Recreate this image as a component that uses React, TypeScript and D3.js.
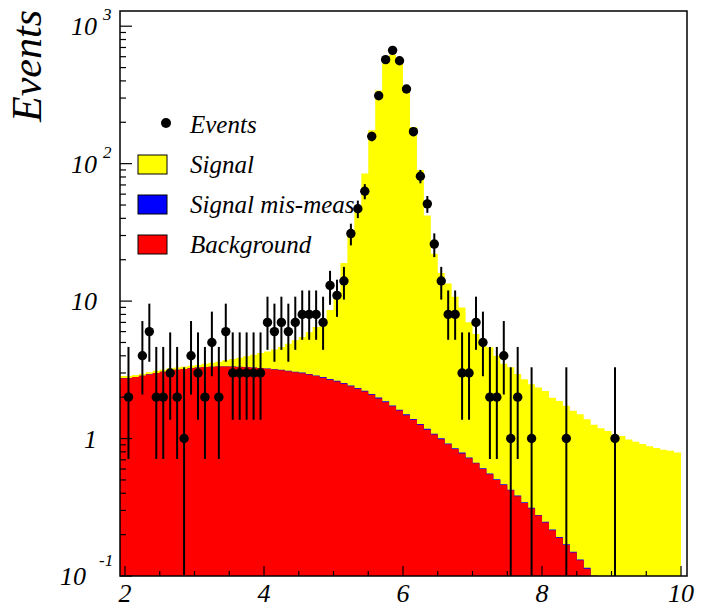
import * as d3 from "d3";

const W = 702;
const H = 608;
const frame = { left: 120, right: 687, top: 11, bottom: 576 };

// histogram binning: 80 bins of 0.1 from 2 to 10
const binLow = 2;
const binWidth = 0.1;

// observed events per bin
const events = [
  2, 0, 4, 6, 2, 2, 3, 2, 1, 4,
  3, 2, 5, 2, 6, 3, 3, 3, 3, 3,
  7, 6, 7, 6, 7, 8, 8, 8, 7, 13,
  11, 14, 31, 47, 63, 158, 312, 571, 667, 561,
  349, 171, 81, 51, 26, 14, 8, 8, 3, 3,
  7, 5, 2, 2, 4, 1, 2, 0, 1, 0,
  0, 0, 0, 1, 0, 0, 0, 0, 0, 0,
  1, 0, 0, 0, 0, 0, 0, 0, 0, 0,
];

// background (red)
const background = [
  2.75, 2.8, 2.86, 2.93, 3.0, 3.06, 3.12, 3.17, 3.21, 3.25,
  3.28, 3.31, 3.33, 3.34, 3.34, 3.33, 3.32, 3.3, 3.28, 3.25,
  3.22, 3.18, 3.14, 3.09, 3.04, 2.99, 2.92, 2.85, 2.77, 2.68,
  2.6, 2.5, 2.4, 2.3, 2.2, 2.08, 1.96, 1.84, 1.72, 1.6,
  1.48, 1.37, 1.26, 1.16, 1.07, 0.99, 0.91, 0.84, 0.78, 0.72,
  0.66, 0.6, 0.55, 0.5, 0.46, 0.42, 0.38, 0.34, 0.31, 0.275,
  0.245, 0.215, 0.19, 0.168, 0.148, 0.13, 0.113, 0.098, 0.085, 0.073,
  0.062, 0.053, 0.045, 0.038, 0.032, 0.027, 0.022, 0.018, 0.015, 0.012,
];

// signal mis-measured (blue), stacked on background
const misMeas = [
  0.002, 0.002, 0.002, 0.002, 0.002, 0.002, 0.002, 0.002, 0.002, 0.002,
  0.004, 0.004, 0.005, 0.006, 0.007, 0.008, 0.009, 0.011, 0.013, 0.015,
  0.017, 0.019, 0.022, 0.025, 0.027, 0.029, 0.03, 0.031, 0.031, 0.032,
  0.032, 0.031, 0.031, 0.03, 0.029, 0.028, 0.026, 0.025, 0.023, 0.022,
  0.02, 0.019, 0.017, 0.016, 0.014, 0.013, 0.012, 0.011, 0.01, 0.009,
  0.008, 0.007, 0.0065, 0.006, 0.0055, 0.005, 0.0045, 0.004, 0.0035, 0.0032,
  0.003, 0.0027, 0.0025, 0.0022, 0.002, 0.0018, 0.0016, 0.0025, 0.0012, 0.0011,
  0.001, 0.0009, 0.0008, 0.0008, 0.0007, 0.0007, 0.0006, 0.0006, 0.0005, 0.0005,
];

// signal (yellow), stacked on top
const signal = [
  0.1, 0.1, 0.1, 0.11, 0.11, 0.11, 0.12, 0.12, 0.12, 0.13,
  0.15, 0.18, 0.22, 0.28, 0.36, 0.45, 0.55, 0.66, 0.78, 0.92,
  1.07, 1.24, 1.48, 1.78, 2.12, 2.46, 2.98, 3.6, 4.45, 5.9,
  8.8, 16.4, 30.5, 47.6, 82.7, 173, 338, 548, 618, 538,
  358, 183.5, 88.7, 40.8, 21, 15, 12.5, 9.9, 8.2, 6.3,
  5.1, 4.55, 4.05, 3.5, 3.03, 2.88, 2.56, 2.36, 2.17, 2.07,
  1.97, 1.76, 1.68, 1.56, 1.44, 1.37, 1.27, 1.16, 1.1, 1.06,
  1.01, 0.99, 0.94, 0.91, 0.88, 0.85, 0.83, 0.81, 0.8, 0.78,
];

// asymmetric error band for small counts, as drawn
const smallCountBand: Record<number, [number, number]> = {
  1: [0, 3.3],
  2: [0.71, 4.64],
  3: [1.37, 5.92],
  4: [2.09, 7.16],
  5: [2.84, 8.38],
  6: [3.62, 9.58],
  7: [4.42, 10.77],
  8: [5.23, 11.95],
};

const xTickLabels = ["2", "4", "6", "8", "10"];
const yTickValues = [0.1, 1, 10, 100, 1000];
const yTickBase = ["10", "1", "10", "10", "10"];
const yTickExp = ["-1", "", "", "2", "3"];

const legendItems = [
  { label: "Events", kind: "marker", color: "black" },
  { label: "Signal", kind: "box", color: "#ffff00" },
  { label: "Signal mis-meas", kind: "box", color: "#0000ff" },
  { label: "Background", kind: "box", color: "#ff0000" },
];

const serif = "'Liberation Serif', 'Times New Roman', serif";

export default function App() {
  const x = d3.scaleLinear().domain([1.928, 10.086]).range([frame.left, frame.right]);
  const y = d3.scaleLog().domain([0.1, 1290]).range([frame.bottom, frame.top]).clamp(true);

  const rows = events.map((_, i) => ({
    i,
    background: background[i],
    misMeas: misMeas[i],
    signal: signal[i],
  }));
  const stacked = d3.stack<any>().keys(["background", "misMeas", "signal"])(rows);

  const edge = (i: number) => (i === 0 ? x.domain()[0] : binLow + i * binWidth);

  const layerPath = (series: any) => {
    const pts = series.map((d: any, i: number) => ({ x: edge(i), v: d[1] }));
    pts.push({ x: binLow + events.length * binWidth, v: series[series.length - 1][1] });
    return d3
      .area<any>()
      .x((d) => x(d.x))
      .y0(frame.bottom)
      .y1((d) => y(Math.max(d.v, 1e-4)))
      .curve(d3.curveStepAfter)(pts);
  };

  const fills = ["#ff0000", "#0000ff", "#ffff00"];
  // draw top of stack first
  const layers = stacked
    .map((s, k) => ({ d: layerPath(s), fill: fills[k], key: s.key }))
    .reverse();

  const yTicks = y.ticks().filter((t) => t <= y.domain()[1] * 1.0001);
  const xMinor = d3.range(binLow, 10.001, 0.5);

  const points = events
    .map((n, i) => {
      if (n <= 0) return null;
      const band = smallCountBand[n] ?? [n - Math.sqrt(n), n + Math.sqrt(n)];
      return { cx: x(binLow + (i + 0.5) * binWidth), n, lo: band[0], hi: band[1] };
    })
    .filter(Boolean) as any[];

  return (
    <svg
      width={W}
      height={H}
      style={{ position: "absolute", left: 0, top: 0, background: "white" }}
      fontFamily={serif}
    >
      <defs>
        <clipPath id="frameClip">
          <rect
            x={frame.left}
            y={frame.top}
            width={frame.right - frame.left}
            height={frame.bottom - frame.top}
          />
        </clipPath>
      </defs>

      <g clipPath="url(#frameClip)">
        {layers.map((l) => (
          <path key={l.key} d={l.d ?? ""} fill={l.fill} stroke="none" />
        ))}
      </g>

      {/* y ticks */}
      {yTicks.map((t, i) => {
        const major = Math.abs(Math.log10(t) - Math.round(Math.log10(t))) < 1e-6;
        return (
          <line
            key={"yt" + i}
            x1={frame.left}
            x2={frame.left + (major ? 12 : 6)}
            y1={y(t)}
            y2={y(t)}
            stroke="black"
            strokeWidth={1.2}
          />
        );
      })}

      {/* x ticks */}
      {xMinor.map((t, i) => {
        const major = Math.abs(t % 2) < 1e-6;
        return (
          <line
            key={"xt" + i}
            x1={x(t)}
            x2={x(t)}
            y1={frame.bottom}
            y2={frame.bottom - (major ? 10 : 5)}
            stroke="black"
            strokeWidth={1.2}
          />
        );
      })}

      <rect
        x={frame.left}
        y={frame.top}
        width={frame.right - frame.left}
        height={frame.bottom - frame.top}
        fill="none"
        stroke="black"
        strokeWidth={1.5}
      />

      {/* x labels */}
      {xTickLabels.map((lab) => (
        <text
          key={"xl" + lab}
          x={x(+lab)}
          y={frame.bottom + 26}
          textAnchor="middle"
          fontStyle="italic"
          fontSize={26}
        >
          {lab}
        </text>
      ))}

      {/* y labels */}
      {yTickValues.map((v, i) => {
        const exp = yTickExp[i];
        const neg = exp.startsWith("-");
        const baseEnd = neg ? 86 : 97;
        return (
          <g key={"yl" + i}>
            <text
              x={baseEnd}
              y={y(v) + 9}
              textAnchor="end"
              fontStyle="italic"
              fontSize={26}
            >
              {yTickBase[i]}
            </text>
            {exp && (
              <text
                x={baseEnd + (neg ? 13 : 6)}
                y={y(v) - (neg ? 10 : 6)}
                fontStyle="italic"
                fontSize={17}
              >
                {exp}
              </text>
            )}
          </g>
        );
      })}

      <text
        transform="translate(41, 10) rotate(-90)"
        textAnchor="end"
        fontStyle="italic"
        fontSize={42}
      >
        Events
      </text>

      {/* legend */}
      {legendItems.map((it, k) => {
        const base = 133 + k * 40;
        return (
          <g key={"lg" + k}>
            {it.kind === "marker" ? (
              <circle cx={166} cy={base - 10} r={5} fill="black" />
            ) : (
              <rect
                x={138}
                y={base - 18}
                width={29}
                height={19}
                fill={it.color}
                stroke="black"
                strokeWidth={1}
              />
            )}
            <text x={190} y={base} fontStyle="italic" fontSize={25}>
              {it.label}
            </text>
          </g>
        );
      })}

      {/* events with error bars */}
      <g clipPath="url(#frameClip)">
        {points.map((p, i) => (
          <g key={"ev" + i}>
            <line
              x1={p.cx}
              x2={p.cx}
              y1={y(Math.max(p.lo, 1e-4))}
              y2={y(p.hi)}
              stroke="black"
              strokeWidth={2}
            />
            <circle cx={p.cx} cy={y(p.n)} r={4.7} fill="black" />
          </g>
        ))}
      </g>
    </svg>
  );
}
